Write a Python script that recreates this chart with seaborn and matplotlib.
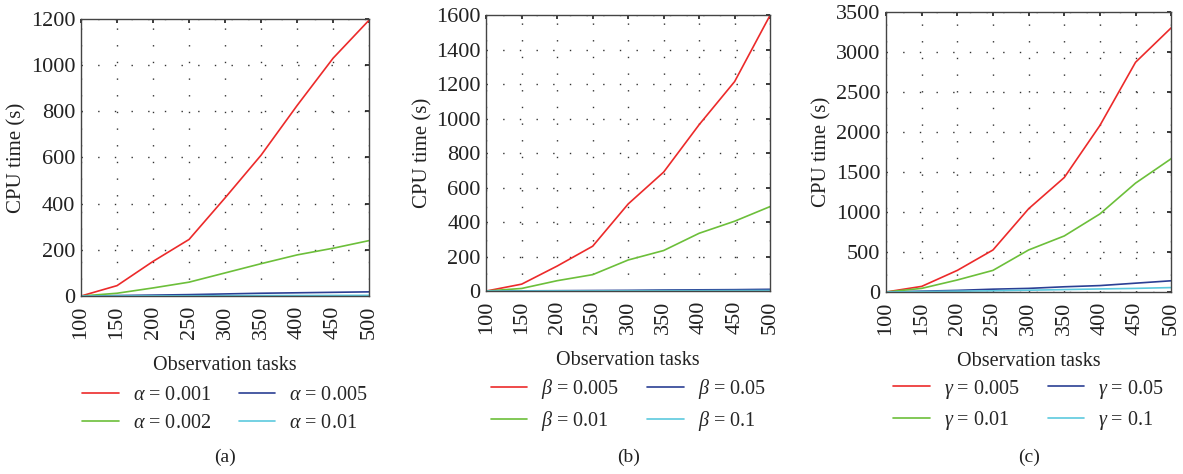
import matplotlib
matplotlib.use("Agg")
import matplotlib.pyplot as plt
import seaborn as sns
import pandas as pd
from matplotlib.ticker import MultipleLocator

sns.set_theme(style="white")
plt.rcParams['font.family'] = ['Liberation Serif', 'DejaVu Serif']
plt.rcParams['mathtext.fontset'] = 'custom'
plt.rcParams['mathtext.it'] = 'Liberation Serif:italic'
plt.rcParams['mathtext.rm'] = 'Liberation Serif'

tasks = [100, 150, 200, 250, 300, 350, 400, 450, 500]

# (a) alpha
a_labels = [r"$\alpha$ = 0.001", r"$\alpha$ = 0.005", r"$\alpha$ = 0.002", r"$\alpha$ = 0.01"]
a_0001 = [0, 45, 150, 245, 425, 610, 825, 1030, 1195]
a_0005 = [0, 2, 4, 6, 9, 12, 14, 16, 18]
a_0002 = [0, 12, 35, 60, 100, 140, 178, 207, 240]
a_001 = [0, 0.5, 1, 1, 1.5, 2, 2, 2.5, 3]

# (b) beta
b_labels = [r"$\beta$ = 0.005", r"$\beta$ = 0.05", r"$\beta$ = 0.01", r"$\beta$ = 0.1"]
b_0005 = [0, 40, 145, 260, 505, 690, 965, 1215, 1600]
b_005 = [0, 1, 2, 3, 4, 6, 7, 8, 10]
b_001 = [0, 15, 60, 95, 180, 235, 335, 405, 490]
b_01 = [0, 0.5, 1, 1, 1.5, 2, 2, 2.5, 3]

# (c) gamma
c_labels = [r"$\gamma$ = 0.005", r"$\gamma$ = 0.05", r"$\gamma$ = 0.01", r"$\gamma$ = 0.1"]
c_0005 = [0, 70, 270, 525, 1040, 1430, 2080, 2870, 3300]
c_005 = [0, 10, 20, 35, 45, 65, 80, 110, 140]
c_001 = [0, 45, 150, 270, 525, 700, 975, 1360, 1665]
c_01 = [0, 5, 10, 15, 22, 30, 38, 45, 55]

colors = ["#ec2a2a", "#2b3f94", "#6cbf3a", "#5cc9de"]

panels = [
    (a_labels, [a_0001, a_0005, a_0002, a_001], 1200, 200, "(a)",
     [0.0685, 0.3755, 0.2435, 0.5845]),
    (b_labels, [b_0005, b_005, b_001, b_01], 1600, 200, "(b)",
     [0.411, 0.386, 0.240, 0.582]),
    (c_labels, [c_0005, c_005, c_001, c_01], 3500, 500, "(c)",
     [0.749, 0.384, 0.241, 0.591]),
]
legend_y = [-0.275, -0.26, -0.255]

fig = plt.figure(figsize=(11.83, 4.74), dpi=100)

for (labels, series, ymax, ystep, cap, pos), ly in zip(panels, legend_y):
    ax = fig.add_axes(pos)
    rows = []
    for lab, vals in zip(labels, series):
        for t, v in zip(tasks, vals):
            rows.append({"tasks": t, "time": v, "series": lab})
    df = pd.DataFrame(rows)
    sns.lineplot(data=df, x="tasks", y="time", hue="series", hue_order=labels,
                 palette=colors, linewidth=1.2, ax=ax, legend=True)
    ax.set_xlim(100, 500)
    ax.set_ylim(0, ymax)
    ax.xaxis.set_major_locator(MultipleLocator(50))
    ax.yaxis.set_major_locator(MultipleLocator(ystep))
    ax.grid(True, which="major", color="#333333", linestyle=(0, (1, 11)), linewidth=1.0)
    ax.tick_params(axis="both", direction="in", length=3, labelsize=16, colors="#222222",
                   top=True, right=True, pad=4)
    ax.tick_params(axis="x", pad=7)
    for lbl in ax.get_xticklabels():
        lbl.set_rotation(90)
    for sp in ax.spines.values():
        sp.set_color("#444444")
        sp.set_linewidth(1.0)
    ax.set_xlabel("Observation tasks", fontsize=14.5, color="#222222", labelpad=12)
    ax.set_ylabel("CPU time (s)", fontsize=15, color="#222222", labelpad=3)
    handles, hl = ax.get_legend_handles_labels()
    order = [0, 2, 1, 3]
    ax.legend([handles[i] for i in order], [hl[i] for i in order], ncol=2,
              loc="upper center", bbox_to_anchor=(0.5, ly),
              frameon=False, fontsize=14.5, handlelength=1.8, columnspacing=1.4,
              labelspacing=0.4, handletextpad=0.7, borderpad=0.2)
    fig.text(pos[0] + pos[2] / 2, 0.035, cap, ha="center", va="center",
             fontsize=14, color="#222222")

fig.savefig("out.png", dpi=100, facecolor="white")
